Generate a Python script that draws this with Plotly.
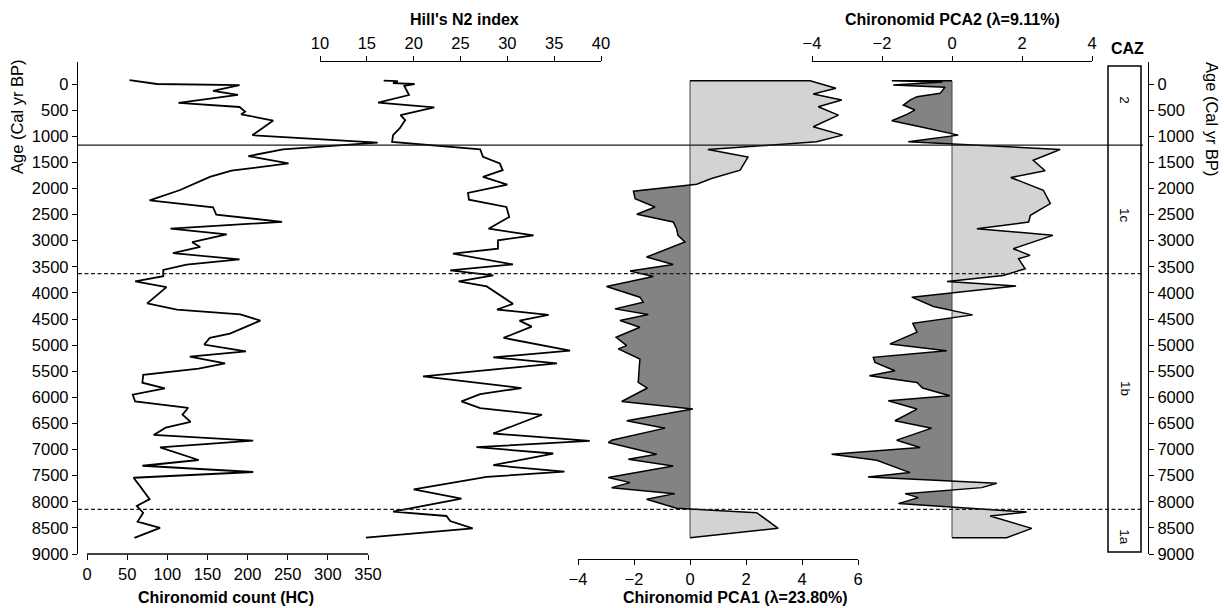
import plotly.graph_objects as go

# ---- Chironomid record (age in cal yr BP) ----
hc_age = [-75, 0, 20, 130, 210, 360, 440, 530, 580, 700, 980, 1124, 1250, 1380, 1520,
          1660, 1780, 2030, 2230, 2360, 2500, 2640, 2770, 2880, 3030, 3120, 3240, 3360,
          3460, 3560, 3680, 3780, 3890, 4200, 4320, 4412, 4530, 4780, 4860, 4990, 5120,
          5220, 5350, 5450, 5570, 5720, 5830, 5950, 6080, 6200, 6330, 6470, 6580, 6720,
          6830, 6960, 7200, 7310, 7430, 7540, 7700, 7950, 8080, 8210, 8380, 8500, 8690]
hc_count = [53, 87, 190, 157, 188, 114, 190, 197, 192, 232, 206, 362, 244, 201, 251,
            180, 153, 116, 78, 157, 161, 243, 104, 174, 131, 141, 107, 190,
            124, 95, 95, 60, 99, 75, 112, 191, 216, 178, 153, 146, 198,
            128, 172, 139, 70, 69, 97, 57, 60, 126, 119, 129, 98, 83,
            207, 91, 139, 69, 207, 58, 66, 78, 62, 70, 63, 91, 59]

n2_age = [-65, -55, -15, 0, 38, 115, 211, 358, 448, 595, 691, 851, 979, 1107, 1250,
          1395, 1523, 1651, 1779, 1926, 2086, 2214, 2355, 2547, 2770, 2898, 2994, 3154,
          3250, 3455, 3570, 3666, 3781, 3877, 4210, 4318, 4421, 4530, 4645, 4862, 5106,
          5234, 5349, 5598, 5822, 5937, 6079, 6207, 6334, 6693, 6833, 6955, 7076, 7300,
          7422, 7524, 7761, 7940, 8189, 8272, 8368, 8509, 8687]
n2_index = [16.8, 18.3, 17.8, 20.1, 19.0, 19.25, 19.5, 16.2, 22.2, 18.6, 19.1, 18.5, 17.8, 17.7, 27.1,
            27.4, 29.2, 29.5, 27.4, 30.0, 25.8, 25.9, 29.9, 30.2, 28.0, 32.8, 29.0, 29.0,
            24.2, 30.6, 23.9, 28.5, 24.8, 27.8, 30.6, 28.9, 34.4, 31.3, 32.6, 29.6, 36.7,
            28.5, 35.3, 21.0, 31.5, 27.1, 25.1, 27.1, 33.7, 28.5, 38.8, 26.7, 34.9, 28.5,
            36.1, 27.8, 20.0, 25.1, 17.8, 23.5, 23.9, 26.3, 14.9]

pca1_age = [-64, 83, 192, 307, 435, 595, 819, 979, 1107, 1254, 1400, 1650, 1810, 1920,
            2054, 2195, 2355, 2495, 2643, 2770, 2898, 3026, 3314, 3455, 3583, 3685, 3877,
            4082, 4178, 4306, 4415, 4530, 4658, 4850, 5010, 5073, 5265, 5714, 5822, 6079,
            6225, 6449, 6590, 6820, 6865, 7088, 7185, 7313, 7537, 7633, 7729, 7844, 7952,
            8125, 8208, 8509, 8687]
pca1_score = [4.29, 5.21, 4.40, 5.42, 4.58, 5.30, 4.40, 5.45, 4.52, 0.64, 2.07, 1.79, 0.77, 0.24,
              -2.02, -1.96, -1.25, -1.90, -0.60, -0.48, -0.43, -0.18, -1.55, -0.60, -2.14, -1.31, -2.98,
              -1.79, -1.67, -2.68, -1.49, -2.50, -1.79, -2.64, -2.26, -2.56, -1.79, -1.85, -1.52, -2.44,
              0.10, -2.26, -0.89, -2.80, -2.92, -1.19, -2.20, -0.60, -2.92, -2.14, -2.80, -0.54, -1.55,
              -0.48, 2.38, 3.15, 0.0]

pca2_age = [-60, -40, 19, 64, 179, 243, 307, 403, 499, 582, 704, 819, 979, 1107, 1254,
            1459, 1662, 1791, 2035, 2290, 2514, 2643, 2770, 2898, 3154, 3282, 3346, 3538,
            3666, 3781, 3870, 4082, 4261, 4421, 4581, 4753, 4977, 5106, 5234, 5330, 5490,
            5585, 5714, 5822, 5969, 6065, 6225, 6449, 6590, 6820, 6961, 7089, 7204, 7441,
            7524, 7645, 7729, 7844, 7920, 8035, 8196, 8272, 8509, 8687]
pca2_score = [-1.72, -0.27, -1.68, -0.20, -0.34, -1.00, -1.20, -1.39, -1.06, -1.29, -1.72, -0.91, 0.18, -1.25, 3.09,
              2.32, 2.66, 1.68, 2.61, 2.81, 2.24, 2.19, 0.71, 2.88, 1.75, 2.23, 1.90, 2.09,
              1.46, -0.14, 1.83, -1.15, -0.53, 0.59, -1.12, -1.00, -1.77, -0.15, -2.25, -2.20, -1.63,
              -2.36, -1.00, -0.84, -0.06, -1.82, -1.00, -1.63, -0.58, -1.58, -0.91, -3.44, -2.15, -1.20,
              -2.40, 1.28, 0.85, -1.34, -0.96, -1.53, 2.13, 1.09, 2.28, 1.56]

# ---- axis ticks and zonation ----
age_ticks = list(range(0, 9001, 500))
hc_ticks = [0, 50, 100, 150, 200, 250, 300, 350]
n2_ticks = [10, 15, 20, 25, 30, 35, 40]
pca1_ticks = [-4, -2, 0, 2, 4, 6]
pca2_ticks = [-4, -2, 0, 2, 4]
zone_bounds = [1170, 3630, 8145]
zone_styles = ["solid", "dash", "dash"]
zone_labels = ["2", "1c", "1b", "1a"]
zone_label_ages = [310, 2510, 5820, 8680]

# ---- page geometry (pixels) ----
W, H = 1224, 608
L, R, T, B = 78, 1148, 62, 559
Y_BOTTOM = 554          # pixel row of age 9000
Y_ZERO = 84             # pixel row of age 0


def px(x):
    return (x - L) / (R - L)


def py(y):
    return (B - y) / (B - T)


age_scale = (Y_BOTTOM - Y_ZERO) / 9000.0
age_range = [9000, -(Y_ZERO - T) / age_scale]

hc_k = (368 - 87) / 350.0
hc_range = [(L - 87) / hc_k, (R - 87) / hc_k]

LIGHT = "#d3d3d3"
DARK = "#838383"
FONT = "Liberation Sans, Arial, Helvetica, sans-serif"


def split_sign(ages, vals):
    """Split a profile into positive and negative parts, adding zero crossings."""
    pa, pv, na, nv = [], [], [], []
    for i, v in enumerate(vals):
        if i > 0:
            v0 = vals[i - 1]
            if (v0 < 0 < v) or (v0 > 0 > v):
                t = v0 / (v0 - v)
                ac = ages[i - 1] + t * (ages[i] - ages[i - 1])
                pa.append(ac); pv.append(0.0)
                na.append(ac); nv.append(0.0)
        pa.append(ages[i]); pv.append(max(v, 0.0))
        na.append(ages[i]); nv.append(min(v, 0.0))
    return pa, pv, na, nv


fig = go.Figure()

# Chironomid count curve
fig.add_trace(go.Scatter(x=hc_count, y=hc_age, mode="lines", xaxis="x", yaxis="y",
                         line=dict(color="black", width=1.8), showlegend=False, hoverinfo="skip"))
# Hill's N2 curve
fig.add_trace(go.Scatter(x=n2_index, y=n2_age, mode="lines", xaxis="x2", yaxis="y",
                         line=dict(color="black", width=1.8), showlegend=False, hoverinfo="skip"))

# PCA silhouettes
for ages, vals, xa in ((pca1_age, pca1_score, "x3"), (pca2_age, pca2_score, "x4")):
    pa, pv, na, nv = split_sign(ages, vals)
    fig.add_trace(go.Scatter(x=pv, y=pa, mode="lines", xaxis=xa, yaxis="y", fill="tozerox",
                             fillcolor=LIGHT, line=dict(width=0), showlegend=False, hoverinfo="skip"))
    fig.add_trace(go.Scatter(x=nv, y=na, mode="lines", xaxis=xa, yaxis="y", fill="tozerox",
                             fillcolor=DARK, line=dict(width=0), showlegend=False, hoverinfo="skip"))
    fig.add_trace(go.Scatter(x=[0, 0], y=[ages[0], ages[-1]], mode="lines", xaxis=xa, yaxis="y",
                             line=dict(color="#444444", width=1), showlegend=False, hoverinfo="skip"))
    fig.add_trace(go.Scatter(x=[0] + vals + [0], y=[ages[0]] + ages + [ages[-1]], mode="lines",
                             xaxis=xa, yaxis="y", line=dict(color="black", width=1.5),
                             showlegend=False, hoverinfo="skip"))

# right-hand age axis carrier
fig.add_trace(go.Scatter(x=[], y=[], xaxis="x", yaxis="y2", showlegend=False, hoverinfo="skip"))

tickfont = dict(family=FONT, size=16.5, color="black")
common = dict(showgrid=False, zeroline=False, ticks="outside", ticklen=5, tickwidth=1.3,
              tickcolor="black", linecolor="black", linewidth=1.3, tickfont=tickfont,
              fixedrange=True)

fig.update_layout(
    width=W, height=H,
    margin=dict(l=L, r=W - R, t=T, b=H - B, pad=0),
    paper_bgcolor="white", plot_bgcolor="rgba(0,0,0,0)",
    font=dict(family=FONT, size=16, color="black"),
    xaxis=dict(domain=[0, 1], range=hc_range, anchor="y", side="bottom", showline=False,
               tickmode="array", tickvals=hc_ticks, ticktext=[str(t) for t in hc_ticks], **common),
    xaxis2=dict(domain=[px(320), px(601)], range=[n2_ticks[0], n2_ticks[-1]], anchor="y", side="top",
                showline=True, tickmode="array", tickvals=n2_ticks,
                ticktext=[str(t) for t in n2_ticks], **common),
    xaxis3=dict(domain=[px(578), px(858)], range=[pca1_ticks[0], pca1_ticks[-1]], anchor="free",
                position=0, side="bottom", showline=True, tickmode="array", tickvals=pca1_ticks,
                ticktext=[str(t).replace("-", "\u2212") for t in pca1_ticks], **common),
    xaxis4=dict(domain=[px(812), px(1092)], range=[pca2_ticks[0], pca2_ticks[-1]], anchor="y",
                side="top", showline=True, tickmode="array", tickvals=pca2_ticks,
                ticktext=[str(t).replace("-", "\u2212") for t in pca2_ticks], **common),
    yaxis=dict(domain=[py(Y_BOTTOM), 1], range=age_range, anchor="x", side="left", showline=True,
               tickmode="array", tickvals=age_ticks, ticktext=[str(t) for t in age_ticks], **common),
    yaxis2=dict(overlaying="y", range=age_range, anchor="x", side="right", showline=True,
                tickmode="array", tickvals=age_ticks, ticktext=[str(t) for t in age_ticks], **common),
)

shapes = []
# count axis baseline, limited to the labelled span
shapes.append(dict(type="line", xref="x", yref="paper", x0=hc_ticks[0], x1=hc_ticks[-1],
                   y0=py(Y_BOTTOM), y1=py(Y_BOTTOM), line=dict(color="black", width=1.3)))
# zone boundaries
for b, st in zip(zone_bounds, zone_styles):
    shapes.append(dict(type="line", xref="paper", yref="y", x0=0, x1=px(1143), y0=b, y1=b,
                       line=dict(color="#1a1a1a", width=1.3,
                                 dash="solid" if st == "solid" else "4px,2.5px")))
# CAZ column
shapes.append(dict(type="rect", xref="paper", yref="paper", x0=px(1108), x1=px(1141),
                   y0=py(552), y1=py(66), line=dict(color="black", width=1.5),
                   fillcolor="rgba(0,0,0,0)"))
fig.update_layout(shapes=shapes)

ann = []


def label(text, x, y, bold=False, size=16, angle=0, xref="paper", yref="paper"):
    ann.append(dict(text=f"<b>{text}</b>" if bold else text, x=x, y=y, xref=xref, yref=yref,
                    showarrow=False, xanchor="center", yanchor="middle", textangle=angle,
                    font=dict(family=FONT, size=size, color="black")))


label("Hill's N2 index", px(464), py(20), bold=True)
label("Chironomid PCA2 (\u03bb=9.11%)", px(952), py(20), bold=True)
label("CAZ", px(1127), py(49), bold=True)
label("Chironomid count (HC)", px(226), py(597), bold=True)
label("Chironomid PCA1 (\u03bb=23.80%)", px(735), py(597), bold=True)
label("Age (Cal yr BP)", px(17), py(117), angle=-90, size=16.5)
label("Age (Cal yr BP)", px(1212), py(119), angle=90, size=16.5)
for txt, a in zip(zone_labels, zone_label_ages):
    label(txt, px(1125), a, size=13.5, angle=90, yref="y")

fig.update_layout(annotations=ann)

fig.write_html("out.html")
